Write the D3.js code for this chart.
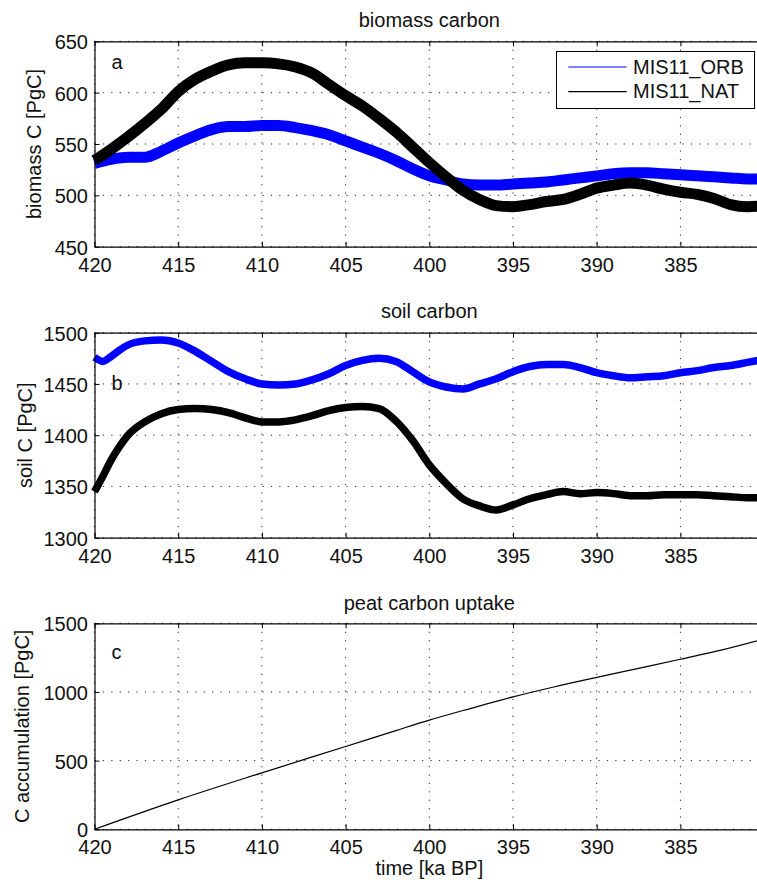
<!DOCTYPE html>
<html>
<head>
<meta charset="utf-8">
<script src="https://cdn.jsdelivr.net/npm/d3@7"></script>
<style>
  html, body { margin: 0; padding: 0; background: #fff; }
  svg { display: block; font-family: "Liberation Sans", Arial, Helvetica, sans-serif; }
</style>
</head>
<body>
<svg id="chart" width="757" height="882"></svg>
<script>
// ---- data (time in ka BP, carbon in PgC) ----
const seriesNames = ["MIS11_ORB", "MIS11_NAT"];

const biomassTime = [420, 419, 418, 417, 416, 415, 414, 413, 412, 411, 410, 409, 408, 407, 406, 405, 404, 403, 402, 401,
                     400, 399, 398, 397, 396, 395, 394, 393, 392, 391, 390, 389, 388, 387, 386, 385, 384, 383, 382, 381, 380];
const biomassORB = [531, 535, 537, 537, 543, 551, 558, 564, 567, 567, 568, 568, 566, 563, 559, 553, 547, 541, 534, 526,
                    519, 515, 511, 510, 510, 511, 512, 513, 515, 517, 519, 521, 522, 522, 521, 520, 519, 518, 517, 516, 516];
const biomassNAT = [534, 545, 557, 570, 584, 601, 613, 621, 627, 629, 629, 628, 625, 619, 608, 597, 587, 575, 562, 547,
                    532, 518, 505, 496, 490, 489, 491, 494, 496, 501, 507, 510, 512, 510, 506, 503, 501, 497, 491, 489, 490];

const soilTime = [420, 419.5, 419, 418.5, 418, 417, 416, 415, 414, 413, 412, 411, 410, 409, 408, 407, 406, 405, 404, 403, 402, 401,
                  400, 399, 398, 397, 396, 395, 394, 393, 392, 391, 390, 389, 388, 387, 386, 385, 384, 383, 382, 381, 380];
const soilORB = [1476, 1472, 1477, 1483, 1488, 1492, 1493, 1490, 1482, 1472, 1462, 1455, 1450, 1449, 1450, 1454, 1460, 1468, 1473, 1475, 1472, 1462,
                 1452, 1447, 1445, 1450, 1455, 1462, 1467, 1469, 1469, 1466, 1461, 1458, 1456, 1457, 1458, 1461, 1463, 1466, 1468, 1471, 1474];
const soilNAT = [1345, 1360, 1376, 1389, 1400, 1413, 1421, 1425, 1426, 1425, 1422, 1417, 1413, 1413, 1415, 1419, 1424, 1427, 1428, 1426, 1414, 1395,
                 1371, 1353, 1338, 1331, 1327, 1332, 1338, 1342, 1345, 1343, 1344, 1343, 1341, 1341, 1342, 1342, 1342, 1341, 1340, 1339, 1339];

const peatTime = [420, 415, 410, 405, 402, 400, 397.5, 395, 392.5, 390, 387.5, 385, 382.5, 380];
const peatUptake = [0, 214, 411, 603, 719, 795, 881, 964, 1038, 1106, 1172, 1238, 1306, 1385];

const timeTicks = [420, 415, 410, 405, 400, 395, 390, 385];
const biomassTicks = [450, 500, 550, 600, 650];
const soilTicks = [1300, 1350, 1400, 1450, 1500];
const peatTicks = [0, 500, 1000, 1500];

// ---- layout ----
const svg = d3.select("#chart");
const FONT = 20;
const left = 94.5, right = 764.1;
const x = d3.scaleLinear().domain([420, 380]).range([left, right]);
const colors = { ORB: "#0000ff", NAT: "#000000" };

function drawPanel(p) {
  const y = d3.scaleLinear().domain(p.domain).range([p.bottom, p.top]);
  const g = svg.append("g");

  // dotted grid
  const grid = g.append("g").attr("stroke", "#222").attr("stroke-width", 1)
    .attr("stroke-dasharray", "1.2,7.2").attr("fill", "none");
  timeTicks.forEach(t => {
    grid.append("line").attr("x1", x(t)).attr("x2", x(t)).attr("y1", p.top).attr("y2", p.bottom);
  });
  p.yTicks.forEach(v => {
    grid.append("line").attr("x1", left).attr("x2", right).attr("y1", y(v)).attr("y2", y(v));
  });

  // series
  const line = d3.line().x(d => x(d[0])).y(d => y(d[1])).curve(d3.curveMonotoneX);
  p.series.forEach(s => {
    g.append("path")
      .datum(p.time.map((t, i) => [t, s.values[i]]))
      .attr("fill", "none")
      .attr("stroke", s.color)
      .attr("stroke-width", s.width)
      .attr("stroke-linejoin", "round")
      .attr("d", line);
  });

  // axes (ticks pointing into the box)
  const axB = d3.axisBottom(x).tickValues(timeTicks).tickSizeInner(-5).tickSizeOuter(0).tickPadding(11).tickFormat(d3.format("d"));
  const axT = d3.axisTop(x).tickValues(timeTicks).tickSizeInner(-5).tickSizeOuter(0).tickFormat("");
  const axL = d3.axisLeft(y).tickValues(p.yTicks).tickSizeInner(-5).tickSizeOuter(0).tickPadding(6.5).tickFormat(d3.format("d"));

  const gb = g.append("g").attr("transform", `translate(0,${p.bottom})`).call(axB);
  const gt = g.append("g").attr("transform", `translate(0,${p.top})`).call(axT);
  const gl = g.append("g").attr("transform", `translate(${left},0)`).call(axL);
  [gb, gt, gl].forEach(a => {
    a.attr("font-family", null).attr("font-size", FONT);
    a.select(".domain").attr("stroke", "#000").attr("stroke-width", 1.2);
    a.selectAll(".tick line").attr("stroke", "#000").attr("stroke-width", 1);
    a.selectAll(".tick text").attr("fill", "#111");
  });
  gl.selectAll(".tick text").attr("dy", "0.37em");
  gb.selectAll(".tick text").attr("dy", "0.7em");

  // title, y label, panel letter
  svg.append("text").attr("x", (left + right) / 2).attr("y", p.titleY)
    .attr("text-anchor", "middle").attr("font-size", FONT).attr("fill", "#111").text(p.title);
  svg.append("text")
    .attr("transform", `translate(${p.ylabelX},${(p.top + p.bottom) / 2}) rotate(-90)`)
    .attr("text-anchor", "middle").attr("font-size", FONT).attr("fill", "#111").text(p.ylabel);
  svg.append("text").attr("x", 111.5).attr("y", p.letterY)
    .attr("font-size", FONT).attr("fill", "#111").text(p.letter);
  return y;
}

drawPanel({
  top: 41.3, bottom: 246.7, domain: [450, 650], yTicks: biomassTicks,
  time: biomassTime,
  series: [
    { values: biomassORB, color: colors.ORB, width: 11 },
    { values: biomassNAT, color: colors.NAT, width: 11 }
  ],
  title: "biomass carbon", titleY: 26.5, ylabel: "biomass C [PgC]", ylabelX: 40.5,
  letter: "a", letterY: 69.3
});

drawPanel({
  top: 332.7, bottom: 537.7, domain: [1300, 1500], yTicks: soilTicks,
  time: soilTime,
  series: [
    { values: soilORB, color: colors.ORB, width: 7.5 },
    { values: soilNAT, color: colors.NAT, width: 7.5 }
  ],
  title: "soil carbon", titleY: 318, ylabel: "soil C [PgC]", ylabelX: 32,
  letter: "b", letterY: 390
});

drawPanel({
  top: 623.3, bottom: 829.3, domain: [0, 1500], yTicks: peatTicks,
  time: peatTime,
  series: [
    { values: peatUptake, color: colors.NAT, width: 1.2 }
  ],
  title: "peat carbon uptake", titleY: 610, ylabel: "C accumulation [PgC]", ylabelX: 29,
  letter: "c", letterY: 659.3
});

// x-axis label under the bottom panel
svg.append("text").attr("x", (left + right) / 2).attr("y", 875)
  .attr("text-anchor", "middle").attr("font-size", FONT).attr("fill", "#111").text("time [ka BP]");

// legend in the top panel
const leg = svg.append("g");
leg.append("rect").attr("x", 556.5).attr("y", 51.5).attr("width", 198).attr("height", 57)
  .attr("fill", "#fff").attr("stroke", "#000").attr("stroke-width", 1);
[colors.ORB, colors.NAT].forEach((c, i) => {
  const yy = 67 + i * 24.7;
  leg.append("line").attr("x1", 568.3).attr("x2", 626.7).attr("y1", yy).attr("y2", yy)
    .attr("stroke", c).attr("stroke-width", 1.2);
  leg.append("text").attr("x", 633).attr("y", yy + 6.5).attr("font-size", FONT).attr("fill", "#111")
    .text(seriesNames[i]);
});
</script>
</body>
</html>
